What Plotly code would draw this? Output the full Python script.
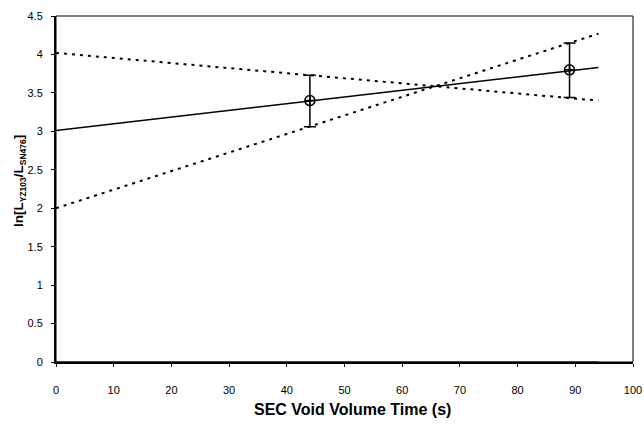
import plotly.graph_objects as go

# Data
point_x = [44, 89]
point_y = [3.40, 3.80]
err_plus = [0.33, 0.35]
err_minus = [0.34, 0.36]

fit_x = [0, 94]
fit_y = [3.01, 3.83]
upper_x = [0, 94]
upper_y = [4.02, 3.40]
lower_x = [0, 94]
lower_y = [2.00, 4.27]
base_x = [0, 94]
base_y = [0.0, 0.0]

x_ticks = [0, 10, 20, 30, 40, 50, 60, 70, 80, 90, 100]
y_ticks = [0, 0.5, 1, 1.5, 2, 2.5, 3, 3.5, 4, 4.5]
y_ticklabels = ["0", "0.5", "1", "1.5", "2", "2.5", "3", "3.5", "4", "4.5"]

FONT = "Liberation Sans, Arial, sans-serif"

fig = go.Figure()
fig.add_trace(go.Scatter(x=base_x, y=base_y, mode="lines",
                         line=dict(color="black", width=1), hoverinfo="skip"))
fig.add_trace(go.Scatter(x=upper_x, y=upper_y, mode="lines",
                         line=dict(color="black", width=2, dash="3px,5px")))
fig.add_trace(go.Scatter(x=lower_x, y=lower_y, mode="lines",
                         line=dict(color="black", width=2, dash="3px,5px")))
fig.add_trace(go.Scatter(x=fit_x, y=fit_y, mode="lines",
                         line=dict(color="black", width=1.5)))
fig.add_trace(go.Scatter(
    x=point_x, y=point_y, mode="markers",
    marker=dict(symbol="circle-cross-open", size=10, color="black",
                line=dict(color="black", width=1.5)),
    error_y=dict(type="data", symmetric=False, array=err_plus,
                 arrayminus=err_minus, color="black", thickness=1.5, width=6),
))

fig.add_shape(type="rect", xref="paper", yref="paper", x0=0, y0=0, x1=1, y1=1,
              line=dict(color="black", width=1), layer="above")

# axis titles as annotations (pixel placement)
W, H = 644, 426
L, R, T, B = 56, 11, 16, 64
pw, ph = W - L - R, H - T - B
fig.add_annotation(text="<b>SEC Void Volume Time (s)</b>", xref="paper", yref="paper",
                   x=(352 - L) / pw, y=-(409 - (T + ph)) / ph, showarrow=False,
                   xanchor="center", yanchor="middle", font=dict(size=16, family=FONT))
fig.add_annotation(
    text=("<b>ln[L<sub><span style='font-size:8.5px'>YZ103</span></sub>"
          "/L<sub><span style='font-size:8.5px'>SN476</span></sub>]</b>"),
    xref="paper", yref="paper",
    x=-(L - 19) / pw, y=(T + ph - 181) / ph, showarrow=False, textangle=-90,
    xanchor="center", yanchor="middle", font=dict(size=13.5, family=FONT))

fig.update_layout(
    width=W, height=H,
    margin=dict(l=L, r=R, t=T, b=B),
    paper_bgcolor="white", plot_bgcolor="white",
    showlegend=False,
    font=dict(family=FONT, color="black", size=11),
    xaxis=dict(
        range=[0, 100], tickvals=x_ticks, showgrid=False, zeroline=False,
        showline=True, linecolor="black", linewidth=2, automargin=False,
        ticks="outside", ticklen=3, tickcolor="black", tickwidth=1,
        ticklabelstandoff=14,
    ),
    yaxis=dict(
        range=[0, 4.5], tickvals=y_ticks, ticktext=y_ticklabels,
        showgrid=False, zeroline=False, automargin=False,
        showline=True, linecolor="black", linewidth=2,
        ticks="outside", ticklen=3, tickcolor="black", tickwidth=1,
        ticklabelstandoff=6,
    ),
)

fig.write_html("out.html")
